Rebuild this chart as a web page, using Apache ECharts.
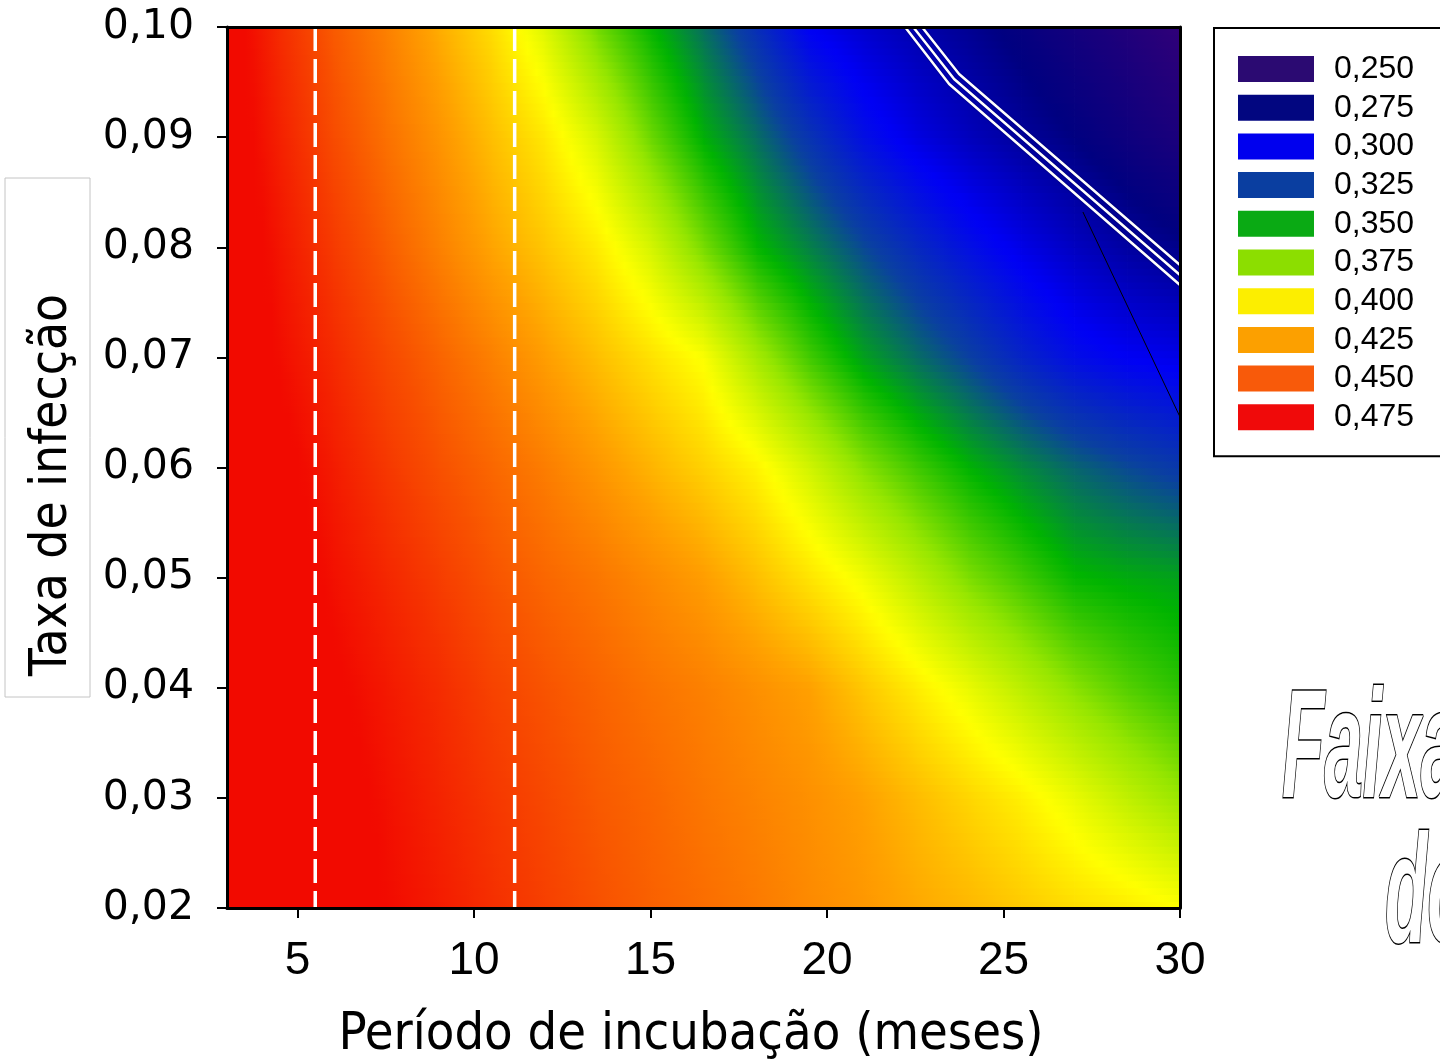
<!DOCTYPE html>
<html><head><meta charset="utf-8">
<script src="https://cdn.jsdelivr.net/npm/echarts@6/dist/echarts.min.js"></script>
<style>html,body{margin:0;padding:0;background:#fff;}#c{width:1440px;height:1064px;}</style>
</head><body><div id="c"></div>
<script>
// grid nodes (incubation period in months, infection rate)
const xNodes = [3, 4.5, 6, 7.5, 9, 10.5, 12, 13.5, 15, 16.5, 18, 19.5, 21, 22.5, 24, 25.5, 27, 28.5, 30];
const yNodes = [0.02, 0.03, 0.04, 0.05, 0.06, 0.07, 0.08, 0.09, 0.10];
// values, one row per infection rate
const vAt002 = [0.496,0.489,0.482,0.475,0.469,0.462,0.456,0.450,0.445,0.441,0.437,0.432,0.428,0.423,0.419,0.414,0.409,0.405,0.400];
const vAt003 = [0.494,0.487,0.480,0.473,0.466,0.459,0.453,0.447,0.443,0.438,0.434,0.430,0.425,0.418,0.411,0.404,0.395,0.385,0.376];
const vAt004 = [0.492,0.485,0.477,0.470,0.463,0.455,0.449,0.444,0.439,0.435,0.430,0.425,0.415,0.405,0.395,0.384,0.373,0.364,0.357];
const vAt005 = [0.490,0.482,0.473,0.465,0.457,0.449,0.443,0.438,0.432,0.426,0.417,0.407,0.397,0.384,0.371,0.361,0.351,0.348,0.346];
const vAt006 = [0.490,0.479,0.469,0.459,0.450,0.443,0.436,0.428,0.420,0.412,0.403,0.389,0.373,0.361,0.350,0.341,0.333,0.327,0.322];
const vAt007 = [0.487,0.474,0.464,0.453,0.444,0.435,0.426,0.417,0.408,0.399,0.379,0.361,0.346,0.335,0.325,0.314,0.305,0.300,0.297];
const vAt008 = [0.485,0.471,0.458,0.446,0.435,0.424,0.415,0.405,0.390,0.370,0.351,0.339,0.327,0.316,0.306,0.297,0.289,0.282,0.277];
const vAt009 = [0.483,0.467,0.452,0.440,0.429,0.417,0.406,0.390,0.368,0.349,0.335,0.320,0.306,0.296,0.288,0.281,0.275,0.268,0.261];
const vAt010 = [0.482,0.463,0.447,0.435,0.422,0.409,0.392,0.369,0.351,0.335,0.318,0.300,0.292,0.285,0.279,0.272,0.265,0.258,0.250];
const valueRows = [vAt002, vAt003, vAt004, vAt005, vAt006, vAt007, vAt008, vAt009, vAt010];

const xTicks = [5, 10, 15, 20, 25, 30];
const yTicks = [0.02, 0.03, 0.04, 0.05, 0.06, 0.07, 0.08, 0.09, 0.10];

const legendLevels = [0.250, 0.275, 0.300, 0.325, 0.350, 0.375, 0.400, 0.425, 0.450, 0.475];
const legendLabels = ['0,250','0,275','0,300','0,325','0,350','0,375','0,400','0,425','0,450','0,475'];

const whiteContourA = [[22.21, 0.1000], [23.46, 0.09482], [30, 0.07657]];
const whiteContourB = [[22.44, 0.1000], [23.60, 0.09528], [30, 0.07748]];
const whiteContourC = [[22.69, 0.1000], [23.74, 0.09573], [30, 0.07839]];
const dashedX = [5.5, 11.15];
const pointerLine = [[27.25, 0.0832], [33.68, 0.0397]];

// styles
const legendColors = ['#2B0A72','#020680','#0000EE','#0A3EA0','#0AAA14','#8CDE00','#FCEE00','#FCA000','#F85A0A','#F00A0A'];
const rampRGB = [[48,0,120],[0,0,128],[0,0,245],[10,64,160],[0,180,0],[150,230,0],[255,255,0],[255,160,0],[248,80,0],[242,10,0]];

function rampColor(v) {
  const n = legendLevels.length;
  if (v <= legendLevels[0]) return 'rgb(' + rampRGB[0].join(',') + ')';
  if (v >= legendLevels[n-1]) return 'rgb(' + rampRGB[n-1].join(',') + ')';
  let k = 0;
  while (k < n - 2 && v > legendLevels[k+1]) k++;
  const t = (v - legendLevels[k]) / (legendLevels[k+1] - legendLevels[k]);
  const a = rampRGB[k], b = rampRGB[k+1];
  return 'rgb(' + [0,1,2].map(c => Math.round(a[c] + (b[c]-a[c]) * t)).join(',') + ')';
}

const cells = [];
for (let j = 0; j < yNodes.length - 1; j++) {
  for (let i = 0; i < xNodes.length - 1; i++) {
    cells.push([xNodes[i], yNodes[j], xNodes[i+1], yNodes[j+1],
      valueRows[j][i], valueRows[j][i+1], valueRows[j+1][i], valueRows[j+1][i+1]]);
  }
}

function renderCell(params, api) {
  const p0 = api.coord([api.value(0), api.value(1)]);
  const p1 = api.coord([api.value(2), api.value(3)]);
  const v00 = api.value(4), v10 = api.value(5), v01 = api.value(6), v11 = api.value(7);
  const left = p0[0], right = p1[0], bottom = p0[1], top = p1[1];
  const NS = 16, NH = 6;
  const children = [];
  for (let k = 0; k < NS; k++) {
    const t = (k + 0.5) / NS;
    const vl = v00 + (v01 - v00) * t;
    const vr = v10 + (v11 - v10) * t;
    const stops = [];
    for (let s = 0; s <= NH; s++) {
      const u = s / NH;
      stops.push({offset: u, color: rampColor(vl + (vr - vl) * u)});
    }
    const yb = bottom + (top - bottom) * k / NS;
    const yt = bottom + (top - bottom) * (k + 1) / NS;
    children.push({
      type: 'rect',
      shape: {x: left, y: yt, width: right - left + 0.8, height: yb - yt + 0.8},
      style: {fill: new echarts.graphic.LinearGradient(0, 0, 1, 0, stops)}
    });
  }
  return {type: 'group', children: children};
}

const chart = echarts.init(document.getElementById('c'), null, {renderer: 'canvas'});
const fmtY = v => v.toFixed(2).replace('.', ',');

function whiteLine(data) {
  return {type: 'line', data: data, symbol: 'none', z: 4, silent: true,
    lineStyle: {color: '#ffffff', width: 2.5, shadowColor: 'rgba(0,0,0,0.35)', shadowBlur: 2}};
}

const option = {
  animation: false,
  backgroundColor: '#ffffff',
  grid: {left: 227, top: 27, width: 953, height: 881, containLabel: false, outerBoundsMode: 'none'},
  xAxis: [{
    type: 'value', min: 3, max: 30, position: 'bottom', z: 10,
    axisLine: {show: true, onZero: false, lineStyle: {color: '#000', width: 3}},
    axisTick: {show: true, customValues: xTicks, length: 10, lineStyle: {color: '#000', width: 2}},
    axisLabel: {customValues: xTicks, margin: 30, color: '#000', fontSize: 46, fontFamily: 'Liberation Sans, Arial, sans-serif'},
    splitLine: {show: false}
  }, {
    type: 'value', min: 3, max: 30, position: 'top', z: 10,
    axisLine: {show: true, onZero: false, lineStyle: {color: '#000', width: 3}},
    axisTick: {show: false}, axisLabel: {show: false}, splitLine: {show: false}
  }],
  yAxis: [{
    type: 'value', min: 0.02, max: 0.10, position: 'left', z: 10,
    axisLine: {show: true, onZero: false, lineStyle: {color: '#000', width: 3}},
    axisTick: {show: true, customValues: yTicks, length: 10, lineStyle: {color: '#000', width: 2}},
    axisLabel: {customValues: yTicks, formatter: fmtY, margin: 33, color: '#000', fontSize: 41, fontFamily: 'DejaVu Sans, Verdana, sans-serif'},
    splitLine: {show: false}
  }, {
    type: 'value', min: 0.02, max: 0.10, position: 'right', z: 10,
    axisLine: {show: true, onZero: false, lineStyle: {color: '#000', width: 3}},
    axisTick: {show: false}, axisLabel: {show: false}, splitLine: {show: false}
  }],
  visualMap: {
    type: 'piecewise', seriesIndex: 7, orient: 'vertical', inverse: true, align: 'left',
    left: 1213, top: 27, itemWidth: 76, itemHeight: 26, itemGap: 6.7, textGap: 20,
    itemSymbol: 'rect', selectedMode: false, hoverLink: false,
    padding: [25, 40, 23, 24], borderColor: '#000', borderWidth: 2, backgroundColor: '#fff',
    textStyle: {fontSize: 32, color: '#000', fontFamily: 'Liberation Sans, Arial, sans-serif'},
    pieces: legendLevels.map((v, i) => ({value: v, label: legendLabels[i], color: legendColors[i]}))
  },
  series: [
    {type: 'custom', renderItem: renderCell, data: cells, clip: true, silent: true, z: 1,
     encode: {x: [0, 2], y: [1, 3]}},
    whiteLine(whiteContourA), whiteLine(whiteContourB), whiteLine(whiteContourC),
    {type: 'line', data: [[dashedX[0], 0.10], [dashedX[0], 0.02]], symbol: 'none', z: 5, silent: true,
     lineStyle: {color: '#fff', width: 3.5, type: [24, 8]}},
    {type: 'line', data: [[dashedX[1], 0.10], [dashedX[1], 0.02]], symbol: 'none', z: 5, silent: true,
     lineStyle: {color: '#fff', width: 3.5, type: [24, 8]}},
    {type: 'line', data: pointerLine, symbol: 'none', clip: false, z: 6, silent: true,
     lineStyle: {color: '#000', width: 1}},
    {type: 'scatter', data: [], silent: true}
  ],
  graphic: [
    {type: 'rect', shape: {x: 5, y: 178, width: 85, height: 519}, style: {fill: '#fff', stroke: '#C4C4C4', lineWidth: 1}, z: 0},
    {type: 'text', x: 53, y: 485, rotation: Math.PI / 2, z: 1,
     style: {text: 'Taxa de infecção', fill: '#000', font: '51px "DejaVu Sans Condensed", "DejaVu Sans", sans-serif', align: 'center', verticalAlign: 'middle'}},
    {type: 'text', x: 691, y: 1035, z: 1,
     style: {text: 'Período de incubação (meses)', fill: '#000', font: '52px "DejaVu Sans Condensed", "DejaVu Sans", sans-serif', align: 'center', verticalAlign: 'middle'}},
    {type: 'text', x: 1282, y: 832, scaleX: 0.45, originX: 0, originY: 0, z: 20,
     style: {text: 'Faixa', fill: '#fff', stroke: '#000', lineWidth: 3, font: 'italic bold 154px "Liberation Sans Narrow", "Liberation Sans", sans-serif', align: 'left', verticalAlign: 'bottom'}},
    {type: 'text', x: 1385, y: 977, scaleX: 0.45, originX: 0, originY: 0, z: 20,
     style: {text: 'do', fill: '#fff', stroke: '#000', lineWidth: 3, font: 'italic bold 154px "Liberation Sans Narrow", "Liberation Sans", sans-serif', align: 'left', verticalAlign: 'bottom'}}
  ]
};
chart.setOption(option);
</script>
</body></html>
